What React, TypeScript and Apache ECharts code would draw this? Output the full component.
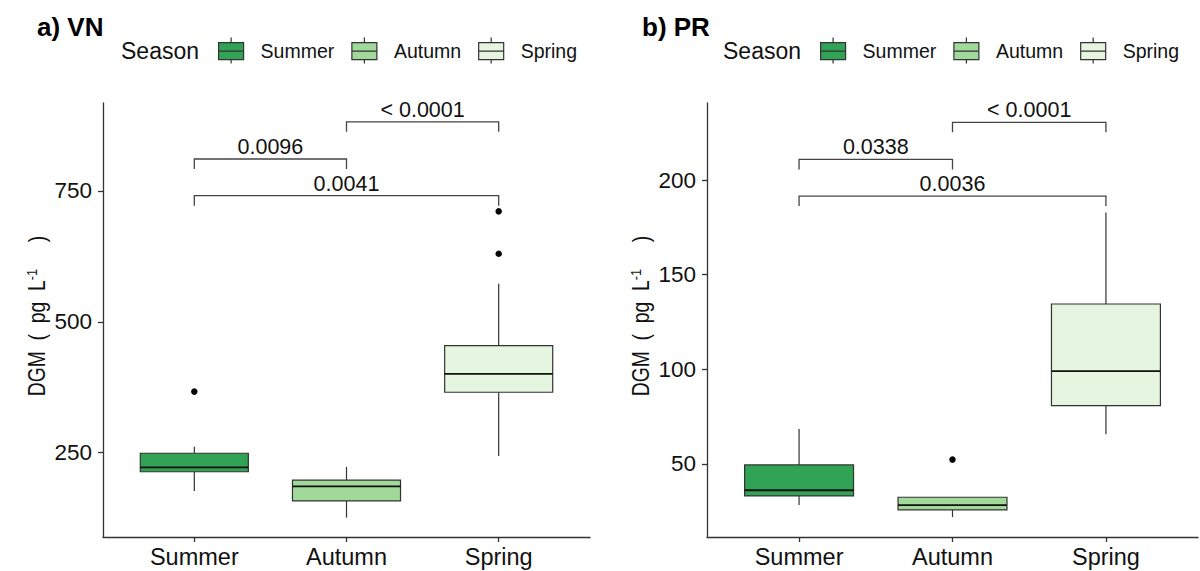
import React, { useEffect, useRef } from "react";
import * as echarts from "echarts";

// ---- data ----
const categories = ["Summer", "Autumn", "Spring"];
// [lower whisker, Q1, median, Q3, upper whisker]
const boxesVN = [
  [176.7, 213.6, 222, 249, 261.5],
  [126, 158, 185.7, 197.8, 223],
  [243.7, 365.5, 400.6, 454.7, 572.7],
];
const outliersVN = [
  [1, 366.7],
  [3, 711],
  [3, 630],
];
const boxesPR = [
  [28.3, 33.1, 36.1, 49.5, 68.5],
  [21.9, 25.7, 28.2, 32.4, 32.4],
  [65.7, 80.8, 99, 134.5, 182.9],
];
const outliersPR = [[2, 52.3]];
// [from, to, y]
const bracketsVN = [
  [1, 2, 811],
  [2, 3, 882],
  [1, 3, 741],
];
const bracketLabelsVN = ["0.0096", "< 0.0001", "0.0041"];
const bracketsPR = [
  [1, 2, 210.9],
  [2, 3, 230.5],
  [1, 3, 191.5],
];
const bracketLabelsPR = ["0.0338", "< 0.0001", "0.0036"];
const yTicksVN = [250, 500, 750];
const yTicksPR = [50, 100, 150, 200];
const yRangeVN = [89, 918];
const yRangePR = [11.4, 240.7];
const panelTitles = ["a) VN", "b) PR"];
const yAxisTitle = "{n|DGM  (  pg  L}{sup|-1}{n|     )}";

// ---- style ----
const FONT = '"Liberation Sans", Arial, Helvetica, sans-serif';
const colors = ["#31a354", "#a1d99b", "#e5f5e0"];
const INK = "#333333";
const BOX_WIDTH = 0.71;

const legendIcon =
  "path://M12.5,0V5M12.5,22V26M0,5H25V22H0ZM0,13.5H25";

function boxRender(params: any, api: any) {
  const x = api.value(0);
  const lo = api.value(1);
  const q1 = api.value(2);
  const med = api.value(3);
  const q3 = api.value(4);
  const hi = api.value(5);
  const w = api.size([BOX_WIDTH, 0])[0];
  const pHi = api.coord([x, hi]);
  const pQ3 = api.coord([x, q3]);
  const pMed = api.coord([x, med]);
  const pQ1 = api.coord([x, q1]);
  const pLo = api.coord([x, lo]);
  const ls = { stroke: INK, lineWidth: 1.2 };
  return {
    type: "group",
    children: [
      { type: "line", shape: { x1: pHi[0], y1: pHi[1], x2: pQ3[0], y2: pQ3[1] }, style: ls },
      { type: "line", shape: { x1: pQ1[0], y1: pQ1[1], x2: pLo[0], y2: pLo[1] }, style: ls },
      {
        type: "rect",
        shape: { x: pQ3[0] - w / 2, y: pQ3[1], width: w, height: pQ1[1] - pQ3[1] },
        style: { fill: api.visual("color"), stroke: INK, lineWidth: 1.2 },
      },
      {
        type: "line",
        shape: { x1: pMed[0] - w / 2, y1: pMed[1], x2: pMed[0] + w / 2, y2: pMed[1] },
        style: { stroke: "#111", lineWidth: 1.8 },
      },
    ],
  };
}

function makeBracketRender(labels: string[]) {
  return (params: any, api: any) => {
    const x1 = api.value(0);
    const x2 = api.value(1);
    const y = api.value(2);
    const a = api.coord([x1, y]);
    const b = api.coord([x2, y]);
    const drop = 10;
    return {
      type: "group",
      children: [
        {
          type: "polyline",
          shape: {
            points: [
              [a[0], a[1] + drop],
              [a[0], a[1]],
              [b[0], b[1]],
              [b[0], b[1] + drop],
            ],
          },
          style: { stroke: "#444", lineWidth: 1.3, fill: "none" },
        },
        {
          type: "text",
          style: {
            text: labels[params.dataIndex],
            x: (a[0] + b[0]) / 2,
            y: a[1] - 12,
            textAlign: "center",
            textVerticalAlign: "middle",
            align: "center",
            verticalAlign: "middle",
            fontSize: 21.5,
            fontFamily: FONT,
            fill: "#111",
          },
        },
      ],
    };
  };
}

export default function App() {
  const ref = useRef<HTMLDivElement>(null);

  useEffect(() => {
    if (!ref.current) return;
    const chart = echarts.init(ref.current, undefined, { renderer: "svg" });

    const panels = [
      { boxes: boxesVN, outliers: outliersVN, brackets: bracketsVN, labels: bracketLabelsVN, ticks: yTicksVN, range: yRangeVN },
      { boxes: boxesPR, outliers: outliersPR, brackets: bracketsPR, labels: bracketLabelsPR, ticks: yTicksPR, range: yRangePR },
    ];
    const grids = [
      { left: 103, right: 610, top: 103, bottom: 34 },
      { left: 707, right: 2, top: 103, bottom: 34 },
    ];
    const titleOffsets = [0, 602];
    const xOffsetsTitle = [37, 642];
    const yTitleX = [37, 641];

    const axisLine = { show: true, onZero: false, lineStyle: { color: INK, width: 1.3 } };

    const xAxes = panels.map((_, p) => ({
      type: "value",
      gridIndex: p,
      min: 0.4,
      max: 3.6,
      splitLine: { show: false },
      axisLine,
      axisTick: { show: true, customValues: [1, 2, 3], length: 5, lineStyle: { color: INK, width: 1.3 } },
      axisLabel: {
        customValues: [1, 2, 3],
        formatter: (v: number) => categories[Math.round(v) - 1] ?? "",
        fontSize: 23.5,
        fontFamily: FONT,
        color: "#111",
        margin: 8,
      },
    }));

    const yAxes = panels.map((pn, p) => ({
      type: "value",
      gridIndex: p,
      min: pn.range[0],
      max: pn.range[1],
      splitLine: { show: false },
      axisLine,
      axisTick: { show: true, customValues: pn.ticks, length: 5, lineStyle: { color: INK, width: 1.3 } },
      axisLabel: {
        customValues: pn.ticks,
        fontSize: 22.5,
        fontFamily: FONT,
        color: "#111",
        margin: 11,
      },
    }));

    const series: any[] = [];
    panels.forEach((pn, p) => {
      categories.forEach((cat, i) => {
        series.push({
          type: "custom",
          name: cat,
          xAxisIndex: p,
          yAxisIndex: p,
          itemStyle: { color: colors[i], borderColor: INK, borderWidth: 1.2 },
          renderItem: boxRender,
          data: [[i + 1, ...pn.boxes[i]]],
          z: 2,
        });
      });
      series.push({
        type: "scatter",
        name: "outliers" + p,
        xAxisIndex: p,
        yAxisIndex: p,
        symbolSize: 6.5,
        itemStyle: { color: "#000", opacity: 1 },
        data: pn.outliers,
        z: 3,
      });
      series.push({
        type: "custom",
        name: "brackets" + p,
        xAxisIndex: p,
        yAxisIndex: p,
        renderItem: makeBracketRender(pn.labels),
        data: pn.brackets,
        z: 3,
      });
    });

    const titles: any[] = [];
    const legends: any[] = [];
    const graphics: any[] = [];
    [0, 1].forEach((p) => {
      titles.push({
        text: panelTitles[p],
        left: xOffsetsTitle[p],
        top: 14,
        padding: 0,
        textStyle: { fontSize: 26, fontWeight: "bold", fontFamily: FONT, color: "#000" },
      });
      titles.push({
        text: "Season",
        left: 122 + titleOffsets[p] - 1,
        top: 39,
        padding: 0,
        textStyle: { fontSize: 23, fontWeight: "normal", fontFamily: FONT, color: "#111" },
      });
      legends.push({
        left: 218 + titleOffsets[p],
        top: 37,
        padding: 0,
        itemWidth: 25,
        itemHeight: 26,
        itemGap: 17,
        selectedMode: false,
        data: categories.map((c) => ({ name: c, icon: legendIcon })),
        itemStyle: { borderColor: INK, borderWidth: 1.2 },
        textStyle: { fontSize: 19.5, fontFamily: FONT, color: "#111", padding: [0, 0, 0, 12] },
      });
      graphics.push({
        type: "text",
        x: yTitleX[p],
        y: 316,
        rotation: Math.PI / 2,
        scaleX: 0.84,
        scaleY: 1,
        style: {
          text: yAxisTitle,
          textAlign: "center",
          textVerticalAlign: "middle",
          align: "center",
          verticalAlign: "middle",
          fontSize: 23,
          fontFamily: FONT,
          fill: "#111",
          rich: {
            n: { fontSize: 23, fontFamily: FONT, fill: "#111", lineHeight: 26 },
            sup: { fontSize: 15, fontFamily: FONT, fill: "#111", verticalAlign: "top", lineHeight: 26 },
          },
        },
      });
    });

    chart.setOption({
      animation: false,
      backgroundColor: "#ffffff",
      textStyle: { fontFamily: FONT },
      title: titles,
      legend: legends,
      grid: grids,
      xAxis: xAxes,
      yAxis: yAxes,
      graphic: graphics,
      series,
    });

    return () => chart.dispose();
  }, []);

  return (
    <div
      ref={ref}
      style={{ position: "fixed", left: 0, top: 0, width: 1200, height: 571, background: "#fff" }}
    />
  );
}
